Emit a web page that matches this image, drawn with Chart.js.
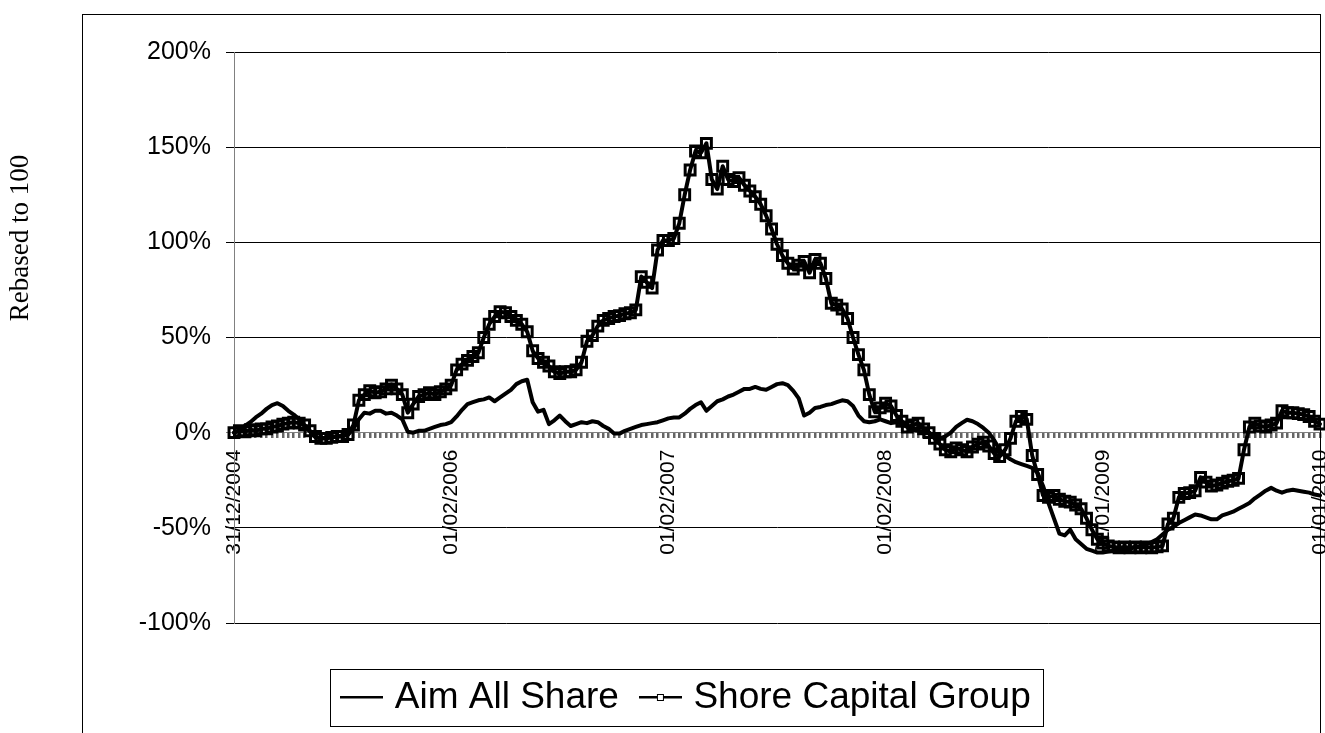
<!DOCTYPE html>
<html><head><meta charset="utf-8">
<script src="https://cdn.jsdelivr.net/npm/chart.js@4.4.1/dist/chart.umd.min.js"></script>
<style>html,body{margin:0;padding:0;background:#fff;}</style>
</head><body>
<canvas id="c" width="1325" height="733"></canvas>
<script>
// ---- data ----
const seriesNames = ['Aim All Share', 'Shore Capital Group'];
const yTitle = 'Rebased to 100';
const tickLabels = ['31/12/2004', '01/02/2006', '01/02/2007', '01/02/2008', '01/01/2009', '01/01/2010'];
const labelEvery = 40;
const yTicks = [-100, -50, 0, 50, 100, 150, 200];

const aimAllShare = [
  0, 1.5, 3.5, 5.5, 8, 10, 12.5, 14.5, 15.5, 14,
  11.5, 9.5, 7, 3.5, 0.5, -2.5, -3, -2.5, -2, -2,
  -1.5, -1, 2, 7, 10.5, 10, 11.5, 11.5, 10, 10.5,
  9, 7, 0.5, 0, 1, 1, 2, 3, 4, 4.5,
  5.5, 8.5, 12, 15, 16, 17, 17.5, 18.5, 16.5, 18.5,
  20.5, 22.5, 25.5, 27, 27.8, 16, 11, 12, 4.5, 6.5,
  9, 6, 3.5, 4.5, 5.5, 5, 6, 5.5, 3.5, 2,
  -0.5, -0.5, 1, 2, 3, 4, 4.5, 5, 5.5, 6.5,
  7.5, 8, 8, 10, 12.5, 14.5, 16, 11.5, 14, 16.5,
  17.5, 19, 20, 21.5, 23, 23, 24, 23, 22.5, 24,
  25.5, 26, 25, 22, 18, 9, 10.5, 13, 13.5, 14.5,
  15, 16, 17, 16.5, 14, 9, 6, 5.5, 6, 7,
  6, 5, 5.5, 4.5, 3, 1.5, 1, 0.5, 0, -1.5,
  -3, -2, 0, 3, 5, 6.8, 6, 4.5, 2.5, 0,
  -4, -9, -12, -14, -15.5, -16.5, -17.5, -18.5, -21, -28,
  -37, -45, -53, -54, -51, -56, -58.5, -61, -62, -63,
  -63, -62.5, -62, -62, -61.5, -61, -60, -59.5, -58.5, -57.5,
  -56, -53.5, -51, -49.5, -47.5, -46, -44.5, -43, -43.5, -44.5,
  -45.5, -45.5, -43.5, -42.5, -41.5, -40, -38.5, -37, -34.5, -32.5,
  -30.5, -29, -30.5, -31.5, -30.5, -30, -30.5, -31, -31.5, -32.5, -33
];

const shoreCapital = [
  0, 1, 0.5, 1.5, 1, 2, 2, 3, 3.5, 4.5,
  5, 5.5, 5, 4, 1, -2, -3, -3, -2.5, -2,
  -2, -1, 4, 17, 20, 22, 21, 21.5, 23, 25,
  23, 20, 10.5, 15, 19, 20, 21, 20, 21.5, 23,
  25, 33, 36, 38, 40, 42, 50, 57, 61, 63.5,
  63, 61, 59, 57, 53, 43, 39, 37, 35, 32,
  31, 32, 32, 33, 37, 48, 51, 56, 59, 60,
  61, 61.5, 62.5, 63, 64.5, 82, 79, 76, 96, 101,
  101, 102, 110, 125, 138, 148, 147, 152, 133, 128,
  140, 133, 132, 134, 130, 127, 124, 120, 114, 107,
  99, 93, 89, 86, 88, 90, 84, 91, 89, 81,
  68, 67, 65, 60, 50, 41, 33, 20, 11, 13,
  15.5, 14, 9, 6, 3, 4, 5, 2, 0, -3,
  -6, -9, -10, -8, -9, -10, -7.5, -6, -5, -7,
  -11, -12.5, -9, -3, 6, 8.5, 7, -12, -22, -33,
  -34, -33, -35, -36, -36.5, -38, -40, -45, -51, -56,
  -58, -59.5, -60, -60.5, -60, -60.5, -60, -60.5, -60, -60.5,
  -60, -59.5, -48, -45, -34, -32, -31.5, -30.5, -23.5, -26,
  -28, -27.5, -26.5, -25.5, -25, -24, -9, 3, 5, 3.5,
  3, 4, 5, 11.5, 10.5, 10.5, 10, 9.5, 8.5, 6, 4.5
];

const categories = aimAllShare.map((_, i) => (i % labelEvery === 0 ? tickLabels[i / labelEvery] : ''));

// ---- legend symbols ----
function legendSymbol(withSquare) {
  const c = document.createElement('canvas');
  c.width = 43; c.height = 9;
  const g = c.getContext('2d');
  g.fillStyle = '#000';
  g.fillRect(0, 3, 43, 2.5);
  if (withSquare) {
    g.fillStyle = '#fff';
    g.fillRect(18, 1, 7, 7);
    g.strokeStyle = '#000';
    g.lineWidth = 1;
    g.strokeRect(18.5, 1.5, 6, 6);
  }
  return c;
}
const legendSymbols = [legendSymbol(false), legendSymbol(true)];

const framePlugin = {
  id: 'frame',
  beforeDraw(chart) {
    const ctx = chart.ctx;
    ctx.save();
    ctx.fillStyle = '#fff';
    ctx.fillRect(0, 0, chart.width, chart.height);
    ctx.restore();
  },
  afterDraw(chart) {
    const ctx = chart.ctx;
    ctx.save();
    ctx.strokeStyle = '#000';
    ctx.lineWidth = 1;
    ctx.strokeRect(82.5, 14.5, 1238, 800);
    // legend frame
    const hb = chart.legend.legendHitBoxes;
    if (hb && hb.length) {
      const first = hb[0], last = hb[hb.length - 1];
      const l = Math.round(first.left - 17) + 0.5;
      const r = Math.round(last.left + last.width + 12) + 0.5;
      const t = Math.round(first.top - 10.5) + 0.5;
      const b = Math.round(first.top + first.height + 9.5) + 0.5;
      ctx.strokeRect(l, t, r - l, b - t);
    }
    // y axis title
    ctx.translate(21, 238);
    ctx.rotate(-Math.PI / 2);
    ctx.font = "27px 'Liberation Serif', 'Times New Roman', serif";
    ctx.fillStyle = '#000';
    ctx.textAlign = 'center';
    ctx.textBaseline = 'middle';
    ctx.fillText(yTitle, 0, 0);
    ctx.restore();
  }
};

const sans = "'Liberation Sans', Arial, sans-serif";

new Chart(document.getElementById('c'), {
  type: 'line',
  data: {
    labels: categories,
    datasets: [
      {
        label: seriesNames[0], data: aimAllShare,
        borderColor: '#000', backgroundColor: '#000', borderWidth: 4,
        pointRadius: 0, tension: 0, order: 2, borderJoinStyle: 'round', borderCapStyle: 'round'
      },
      {
        label: seriesNames[1], data: shoreCapital,
        borderColor: '#000', backgroundColor: '#000', borderWidth: 4,
        pointStyle: 'rect', pointRadius: 7, pointBorderWidth: 3,
        pointBorderColor: '#000', pointBackgroundColor: 'rgba(255,255,255,0)',
        tension: 0, order: 1, borderJoinStyle: 'round', borderCapStyle: 'round'
      }
    ]
  },
  options: {
    responsive: false,
    animation: false,
    events: [],
    layout: { autoPadding: false, padding: { left: 58, top: 52, right: 5, bottom: 7 } },
    scales: {
      x: {
        type: 'category',
        position: { y: 0 },
        offset: false,
        grid: { display: true, drawOnChartArea: false, drawTicks: true, tickLength: 5, color: '#666666', lineWidth: 2.5 },
        border: { display: true, color: '#808080', width: 1 },
        ticks: {
          autoSkip: false, minRotation: 90, maxRotation: 90, padding: 12,
          color: '#000', font: { family: sans, size: 21 },
          callback: (v, i) => categories[i]
        },
        afterFit(s) { s.paddingLeft = 0; s.paddingRight = 0; }
      },
      y: {
        min: -100, max: 200,
        afterBuildTicks(s) { s.ticks = yTicks.map(v => ({ value: v })); },
        grid: {
          color: c => (c.tick && c.tick.value === 0 ? '#808080' : '#000'),
          lineWidth: 1, tickLength: 8, drawTicks: true
        },
        border: { display: true, color: '#808080', width: 1 },
        ticks: {
          padding: 15, color: '#000', font: { family: sans, size: 25 },
          callback: v => v + '%'
        },
        afterFit(s) { s.width = 176; }
      }
    },
    plugins: {
      tooltip: { enabled: false },
      legend: {
        display: true, position: 'bottom',
        title: { display: true, text: ' ', font: { size: 10 }, padding: { top: 8.5, bottom: 8.5 } },
        labels: {
          usePointStyle: true, pointStyleWidth: 29, boxWidth: 29, padding: 27,
          color: '#000', font: { family: sans, size: 37 },
          generateLabels(chart) {
            return chart.data.datasets.map((ds, i) => ({
              text: ds.label, datasetIndex: i, pointStyle: legendSymbols[i],
              fillStyle: '#000', strokeStyle: '#000', lineWidth: 0, hidden: false, fontColor: '#000'
            }));
          }
        }
      }
    }
  },
  plugins: [framePlugin]
});
</script>
</body></html>
